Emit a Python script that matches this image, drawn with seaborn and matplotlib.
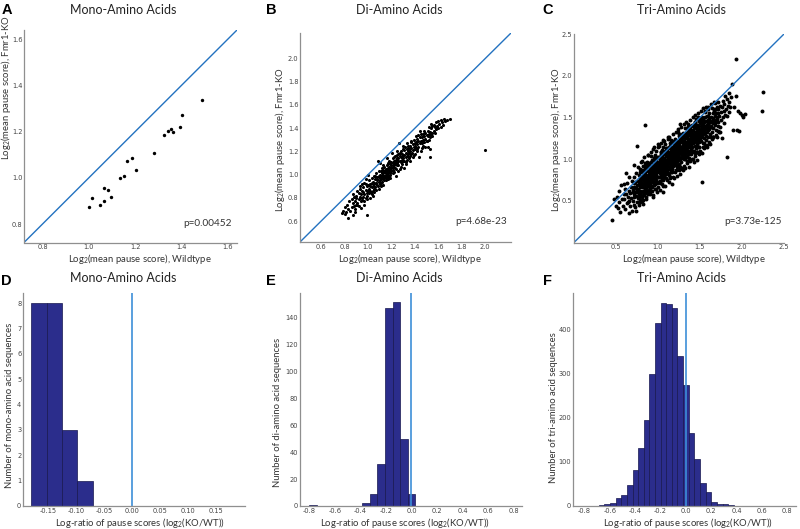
import numpy as np
import matplotlib
matplotlib.use("Agg")
import matplotlib.pyplot as plt
import seaborn as sns

# ---- panel A: mono-amino acids (wildtype vs Fmr1-KO) ----
mono_wt = [1.000, 1.014, 1.049, 1.067, 1.064, 1.081, 1.096, 1.134, 1.154, 1.164,
           1.186, 1.204, 1.280, 1.323, 1.341, 1.356, 1.364, 1.394, 1.404, 1.487]
mono_ko = [0.873, 0.914, 0.881, 0.901, 0.954, 0.947, 0.917, 0.999, 1.007, 1.072,
           1.086, 1.036, 1.106, 1.187, 1.203, 1.210, 1.197, 1.220, 1.273, 1.338]

# ---- panel B: di-amino acids ----
di_wt = [
    0.78, 0.79, 0.80, 0.80, 0.81, 0.82, 0.83, 0.83, 0.84, 0.85,
    0.86, 0.86, 0.87, 0.87, 0.88, 0.88, 0.89, 0.89, 0.90, 0.87, 0.885, 0.895,
    0.90, 0.91, 0.91, 0.92, 0.92, 0.92, 0.93, 0.93, 0.94, 0.94, 0.94, 0.95, 0.95, 0.91, 0.93, 0.945,
    0.95, 0.96, 0.96, 0.96, 0.97, 0.97, 0.97, 0.98, 0.98, 0.98, 0.99, 0.99, 0.99, 1.00, 1.00, 0.965, 0.985, 0.995, 0.99,
    1.00, 1.01, 1.01, 1.01, 1.02, 1.02, 1.02, 1.03, 1.03, 1.03, 1.04, 1.04, 1.04, 1.05, 1.05, 1.015, 1.025, 1.035, 1.045, 1.005,
    1.05, 1.06, 1.06, 1.06, 1.07, 1.07, 1.07, 1.08, 1.08, 1.08, 1.09, 1.09, 1.09, 1.10, 1.10, 1.10, 1.055, 1.065, 1.075, 1.085, 1.095, 1.085,
    1.10, 1.11, 1.11, 1.11, 1.11, 1.12, 1.12, 1.12, 1.12, 1.13, 1.13, 1.13, 1.13, 1.14, 1.14, 1.14, 1.14, 1.15, 1.15, 1.15, 1.105, 1.115, 1.125, 1.135, 1.145, 1.125,
    1.15, 1.16, 1.16, 1.16, 1.16, 1.17, 1.17, 1.17, 1.17, 1.18, 1.18, 1.18, 1.18, 1.19, 1.19, 1.19, 1.19, 1.20, 1.20, 1.20, 1.155, 1.165, 1.175, 1.185, 1.195, 1.165,
    1.20, 1.21, 1.21, 1.21, 1.22, 1.22, 1.22, 1.23, 1.23, 1.23, 1.24, 1.24, 1.24, 1.25, 1.25, 1.25, 1.205, 1.215, 1.225, 1.235, 1.245, 1.215, 1.235, 1.245,
    1.25, 1.26, 1.26, 1.26, 1.27, 1.27, 1.27, 1.28, 1.28, 1.28, 1.29, 1.29, 1.29, 1.30, 1.30, 1.30, 1.255, 1.265, 1.275, 1.285, 1.295, 1.26,
    1.30, 1.31, 1.31, 1.31, 1.32, 1.32, 1.32, 1.33, 1.33, 1.33, 1.34, 1.34, 1.34, 1.35, 1.35, 1.305, 1.315, 1.325, 1.335, 1.345,
    1.35, 1.36, 1.36, 1.36, 1.37, 1.37, 1.37, 1.38, 1.38, 1.38, 1.39, 1.39, 1.40, 1.40, 1.355, 1.365, 1.375, 1.395,
    1.40, 1.41, 1.41, 1.41, 1.42, 1.42, 1.42, 1.43, 1.43, 1.43, 1.44, 1.44, 1.45, 1.45, 1.405, 1.415, 1.435, 1.445,
    1.45, 1.46, 1.46, 1.46, 1.47, 1.47, 1.47, 1.48, 1.48, 1.49, 1.49, 1.50, 1.50, 1.455, 1.475, 1.485,
    1.50, 1.51, 1.51, 1.52, 1.52, 1.52, 1.53, 1.53, 1.54, 1.54, 1.55, 1.55, 1.515, 1.535, 1.53,
    1.55, 1.56, 1.56, 1.57, 1.57, 1.58, 1.58, 1.59, 1.60, 1.60, 1.525,
    1.61, 1.62, 1.62, 1.63, 1.64, 1.65, 1.66, 1.67, 1.70,
    2.00]
di_ko = [
    0.67, 0.69, 0.66, 0.72, 0.68, 0.74, 0.70, 0.63, 0.77, 0.69,
    0.72, 0.79, 0.65, 0.76, 0.73, 0.81, 0.70, 0.77, 0.74, 0.83, 0.68, 0.80,
    0.82, 0.76, 0.86, 0.79, 0.73, 0.84, 0.81, 0.88, 0.77, 0.83, 0.71, 0.80, 0.86, 0.74, 0.90, 0.92,
    0.78, 0.85, 0.89, 0.81, 0.83, 0.93, 0.77, 0.87, 0.80, 0.96, 0.84, 0.90, 0.79, 0.86, 1.00, 0.74, 0.92, 0.82, 0.65,
    0.91, 0.84, 0.88, 0.95, 0.86, 0.92, 0.80, 0.89, 0.97, 0.83, 0.90, 0.86, 0.94, 0.88, 0.99, 0.90, 0.85, 0.93, 0.82, 0.87,
    0.92, 0.96, 0.89, 0.99, 0.93, 0.87, 1.01, 0.95, 0.91, 0.98, 0.94, 1.03, 0.88, 0.97, 0.92, 1.00, 0.85, 0.93, 0.96, 1.12, 0.99, 0.90,
    0.95, 0.99, 0.93, 1.03, 0.97, 1.01, 0.94, 0.98, 1.06, 1.00, 0.96, 1.04, 0.91, 1.02, 0.98, 1.07, 0.95, 1.01, 1.05, 0.97, 1.10, 0.90, 1.08, 0.99, 1.03, 0.96,
    1.00, 1.04, 0.98, 1.08, 1.02, 1.06, 1.00, 1.10, 0.96, 1.03, 1.07, 0.99, 1.12, 1.05, 1.01, 1.09, 0.97, 1.06, 1.03, 1.11, 0.95, 1.14, 1.04, 1.00, 1.08, 1.01,
    1.07, 1.10, 1.04, 1.14, 1.08, 1.12, 1.02, 1.11, 1.06, 1.16, 1.09, 1.13, 1.05, 1.12, 1.08, 1.17, 1.19, 1.01, 1.15, 1.10, 1.20, 1.07, 0.99, 1.14,
    1.10, 1.14, 1.08, 1.18, 1.12, 1.16, 1.05, 1.15, 1.11, 1.20, 1.13, 1.09, 1.18, 1.16, 1.12, 1.22, 1.03, 1.27, 1.19, 1.07, 1.25, 1.12,
    1.14, 1.17, 1.12, 1.21, 1.15, 1.19, 1.09, 1.18, 1.22, 1.13, 1.20, 1.16, 1.25, 1.19, 1.14, 1.06, 1.24, 1.11, 1.27, 1.23,
    1.22, 1.20, 1.25, 1.16, 1.23, 1.18, 1.28, 1.21, 1.26, 1.15, 1.24, 1.30, 1.22, 1.27, 1.12, 1.29, 1.19, 1.17,
    1.25, 1.28, 1.23, 1.33, 1.26, 1.31, 1.20, 1.29, 1.24, 1.34, 1.27, 1.32, 1.28, 1.35, 1.18, 1.22, 1.15, 1.38,
    1.29, 1.27, 1.32, 1.23, 1.30, 1.35, 1.25, 1.28, 1.33, 1.31, 1.36, 1.29, 1.34, 1.20, 1.38, 1.24,
    1.29, 1.33, 1.38, 1.30, 1.35, 1.41, 1.32, 1.37, 1.34, 1.40, 1.36, 1.42, 1.24, 1.44, 1.15,
    1.33, 1.38, 1.43, 1.36, 1.41, 1.39, 1.45, 1.42, 1.40, 1.46, 1.225,
    1.44, 1.41, 1.47, 1.45, 1.43, 1.48, 1.46, 1.47, 1.48,
    1.21]

tri_wt = [
    0.45, 0.48, 0.50,
    0.51, 0.52, 0.53, 0.54, 0.55, 0.56, 0.57, 0.58, 0.59, 0.60,
    0.60, 0.61, 0.61, 0.62, 0.63, 0.63, 0.64, 0.65, 0.65, 0.66, 0.66, 0.67, 0.67, 0.68, 0.68, 0.69, 0.69, 0.70, 0.62, 0.64,
    0.70, 0.70, 0.71, 0.71, 0.71, 0.72, 0.72, 0.72, 0.73, 0.73, 0.73, 0.74, 0.74, 0.74, 0.75, 0.75, 0.75, 0.76, 0.76, 0.76,
    0.77, 0.77, 0.77, 0.78, 0.78, 0.78, 0.79, 0.79, 0.79, 0.80, 0.80, 0.80, 0.715, 0.735, 0.755, 0.775, 0.795, 0.745,
    0.80, 0.80, 0.81, 0.81, 0.81, 0.81, 0.82, 0.82, 0.82, 0.82, 0.83, 0.83, 0.83, 0.83, 0.83, 0.84, 0.84, 0.84, 0.84, 0.85,
    0.85, 0.85, 0.85, 0.85, 0.86, 0.86, 0.86, 0.86, 0.87, 0.87, 0.87, 0.87, 0.87, 0.88, 0.88, 0.88, 0.88, 0.89, 0.89, 0.89,
    0.89, 0.90, 0.90, 0.90, 0.805, 0.815, 0.825, 0.835, 0.845, 0.855, 0.865, 0.875, 0.885, 0.895, 0.85,
    0.90, 0.90, 0.91, 0.91, 0.91, 0.91, 0.91, 0.92, 0.92, 0.92, 0.92, 0.92, 0.93, 0.93, 0.93, 0.93, 0.93, 0.94, 0.94, 0.94,
    0.94, 0.94, 0.95, 0.95, 0.95, 0.95, 0.95, 0.96, 0.96, 0.96, 0.96, 0.96, 0.97, 0.97, 0.97, 0.97, 0.97, 0.98, 0.98, 0.98,
    0.98, 0.98, 0.99, 0.99, 0.99, 0.99, 1.00, 1.00, 1.00, 1.00, 0.905, 0.915, 0.925, 0.935, 0.945, 0.955, 0.965, 0.975, 0.985, 0.995,
    0.925, 0.945, 0.965, 0.985, 0.955,
    1.00, 1.01, 1.01, 1.01, 1.01, 1.02, 1.02, 1.02, 1.02, 1.02, 1.03, 1.03, 1.03, 1.03, 1.03, 1.04, 1.04, 1.04, 1.04, 1.04,
    1.05, 1.05, 1.05, 1.05, 1.05, 1.06, 1.06, 1.06, 1.06, 1.06, 1.07, 1.07, 1.07, 1.07, 1.07, 1.08, 1.08, 1.08, 1.08, 1.08,
    1.09, 1.09, 1.09, 1.09, 1.09, 1.10, 1.10, 1.10, 1.10, 1.005, 1.015, 1.025, 1.035, 1.045, 1.055, 1.065, 1.075, 1.085, 1.095,
    1.015, 1.035, 1.055, 1.075, 1.095, 1.025, 1.045, 1.065, 1.085, 1.04, 1.06,
    1.10, 1.11, 1.11, 1.11, 1.11, 1.12, 1.12, 1.12, 1.12, 1.12, 1.13, 1.13, 1.13, 1.13, 1.13, 1.14, 1.14, 1.14, 1.14, 1.14,
    1.15, 1.15, 1.15, 1.15, 1.15, 1.16, 1.16, 1.16, 1.16, 1.16, 1.17, 1.17, 1.17, 1.17, 1.17, 1.18, 1.18, 1.18, 1.18, 1.18,
    1.19, 1.19, 1.19, 1.19, 1.19, 1.20, 1.20, 1.20, 1.20, 1.105, 1.115, 1.125, 1.135, 1.145, 1.155, 1.165, 1.175, 1.185, 1.195,
    1.115, 1.135, 1.155, 1.175, 1.195, 1.125, 1.145, 1.165, 1.185, 1.14, 1.16,
    1.20, 1.21, 1.21, 1.21, 1.21, 1.22, 1.22, 1.22, 1.22, 1.23, 1.23, 1.23, 1.23, 1.23, 1.24, 1.24, 1.24, 1.24, 1.25, 1.25,
    1.25, 1.25, 1.25, 1.26, 1.26, 1.26, 1.26, 1.27, 1.27, 1.27, 1.27, 1.27, 1.28, 1.28, 1.28, 1.28, 1.29, 1.29, 1.29, 1.29,
    1.29, 1.30, 1.30, 1.30, 1.30, 1.205, 1.215, 1.225, 1.235, 1.245, 1.255, 1.265, 1.275, 1.285, 1.295,
    1.215, 1.235, 1.255, 1.275, 1.295, 1.225, 1.245, 1.265, 1.285, 1.25,
    1.30, 1.31, 1.31, 1.31, 1.31, 1.32, 1.32, 1.32, 1.32, 1.33, 1.33, 1.33, 1.33, 1.34, 1.34, 1.34, 1.34, 1.35, 1.35, 1.35,
    1.35, 1.35, 1.36, 1.36, 1.36, 1.36, 1.37, 1.37, 1.37, 1.37, 1.38, 1.38, 1.38, 1.38, 1.39, 1.39, 1.39, 1.39, 1.40, 1.40,
    1.40, 1.305, 1.315, 1.325, 1.335, 1.345, 1.355, 1.365, 1.375, 1.385, 1.395,
    1.315, 1.335, 1.355, 1.375, 1.395, 1.325, 1.345, 1.365, 1.385,
    1.40, 1.41, 1.41, 1.41, 1.42, 1.42, 1.42, 1.42, 1.43, 1.43, 1.43, 1.44, 1.44, 1.44, 1.44, 1.45, 1.45, 1.45, 1.45, 1.46,
    1.46, 1.46, 1.47, 1.47, 1.47, 1.47, 1.48, 1.48, 1.48, 1.49, 1.49, 1.49, 1.49, 1.50, 1.50, 1.50,
    1.405, 1.415, 1.425, 1.435, 1.445, 1.455, 1.465, 1.475, 1.485, 1.495,
    1.415, 1.435, 1.455, 1.475, 1.495, 1.425, 1.445, 1.465, 1.485,
    1.50, 1.51, 1.51, 1.51, 1.52, 1.52, 1.52, 1.53, 1.53, 1.53, 1.54, 1.54, 1.54, 1.55, 1.55, 1.55, 1.56, 1.56, 1.56, 1.57,
    1.57, 1.57, 1.58, 1.58, 1.58, 1.59, 1.59, 1.59, 1.60, 1.60,
    1.505, 1.515, 1.525, 1.535, 1.545, 1.555, 1.565, 1.575, 1.585, 1.595, 1.52, 1.54, 1.56, 1.58, 1.52,
    1.60, 1.61, 1.61, 1.62, 1.62, 1.63, 1.63, 1.64, 1.64, 1.65, 1.65, 1.65, 1.66, 1.66, 1.67, 1.67, 1.68, 1.68, 1.69, 1.69,
    1.70, 1.70, 1.605, 1.625, 1.645, 1.665, 1.685, 1.615, 1.635, 1.655, 1.675, 1.695,
    1.70, 1.71, 1.71, 1.72, 1.72, 1.73, 1.74, 1.74, 1.75, 1.75, 1.76, 1.77, 1.77, 1.78, 1.78, 1.79, 1.80, 1.80, 1.73, 1.76,
    1.81, 1.82, 1.82, 1.83, 1.84, 1.85, 1.85, 1.86, 1.87, 1.88, 1.89, 1.82,
    1.91, 1.93, 1.94, 1.95, 1.96, 1.98, 2.00, 2.01, 2.03, 1.93,
    2.25, 2.24,
    # outer part of the cloud
    0.76, 0.78, 0.80, 0.82, 0.84, 0.86, 0.88, 0.90, 0.92, 0.94,
    0.96, 0.98, 1.00, 1.02, 1.04, 1.06, 1.08, 1.10, 1.12, 1.14,
    1.16, 1.18, 1.20, 1.22, 1.24, 1.26, 1.28, 1.30, 1.32, 1.34,
    1.36, 1.38, 1.40, 1.42, 1.44, 1.46, 1.48, 1.50, 1.52, 1.54,
    1.56, 1.58, 1.60, 1.62, 1.64, 1.66, 1.68, 1.70, 1.72, 1.74,
    0.77, 0.81, 0.85, 0.89, 0.93, 0.97, 1.01, 1.05, 1.09, 1.13,
    1.17, 1.21, 1.25, 1.29, 1.33, 1.37, 1.41, 1.45, 1.49, 1.53,
    1.57, 1.61, 1.65, 1.69, 0.79, 0.83, 0.87, 0.91, 0.95, 0.99,
    1.03, 1.07, 1.11, 1.15, 1.19, 1.23, 1.27, 1.31, 1.35, 1.39,
    1.43, 1.47, 1.51, 1.55, 1.59, 1.63, 1.67, 1.71, 1.06, 1.26]
tri_ko = [
    0.27, 0.52, 0.44,
    0.55, 0.41, 0.62, 0.48, 0.36, 0.69, 0.52, 0.44, 0.58, 0.70,
    0.52, 0.64, 0.40, 0.58, 0.71, 0.47, 0.55, 0.62, 0.35, 0.78, 0.50, 0.59, 0.44, 0.66, 0.53, 0.74, 0.38, 0.61, 0.83, 0.49,
    0.63, 0.50, 0.71, 0.58, 0.45, 0.67, 0.79, 0.54, 0.61, 0.72, 0.42, 0.65, 0.56, 0.83, 0.69, 0.60, 0.48, 0.74, 0.64, 0.53,
    0.70, 0.81, 0.58, 0.66, 0.76, 0.51, 0.72, 0.62, 0.88, 0.68, 0.57, 0.78, 0.93, 0.38, 1.16, 0.45, 0.69, 0.63,
    0.72, 0.61, 0.76, 0.66, 0.85, 0.55, 0.70, 0.80, 0.62, 0.92, 0.74, 0.67, 0.83, 0.57, 0.78, 0.71, 0.88, 0.64, 0.77, 0.75,
    0.69, 0.84, 0.59, 0.95, 0.73, 0.81, 0.65, 0.87, 0.76, 0.70, 0.90, 0.62, 0.80, 0.78, 0.68, 0.86, 0.74, 0.72, 0.82, 0.63,
    0.93, 0.79, 0.71, 0.85, 0.50, 0.98, 0.46, 1.02, 0.88, 0.54, 0.96, 0.58, 1.05, 0.68, 1.41,
    0.80, 0.70, 0.84, 0.75, 0.92, 0.65, 0.88, 0.82, 0.73, 0.97, 0.78, 0.86, 0.83, 0.68, 0.91, 0.76, 0.99, 0.85, 0.72, 0.94,
    0.80, 0.88, 0.87, 0.77, 1.01, 0.69, 0.84, 0.83, 0.92, 0.74, 1.04, 0.89, 0.86, 0.79, 0.95, 0.70, 0.90, 0.88, 0.81, 1.00,
    0.75, 0.93, 0.85, 0.96, 0.72, 0.90, 0.87, 0.79, 1.03, 0.94, 0.58, 1.08, 0.62, 1.12, 0.55, 1.15, 0.64, 1.10, 0.60, 1.18,
    0.81, 0.89, 0.78, 0.84, 0.91,
    0.90, 0.86, 0.95, 0.78, 1.02, 0.91, 0.83, 0.99, 0.74, 0.88, 0.93, 0.85, 1.05, 0.79, 0.96, 0.92, 0.81, 1.00, 0.87, 1.08,
    0.94, 0.84, 0.98, 0.76, 1.03, 0.91, 0.97, 0.82, 1.06, 0.88, 0.95, 0.86, 1.01, 0.79, 0.93, 0.96, 0.89, 1.07, 0.83, 0.99,
    0.97, 0.90, 1.04, 0.84, 0.94, 0.98, 0.87, 1.09, 0.92, 0.66, 1.16, 0.63, 1.19, 0.70, 1.14, 0.61, 1.22, 0.68, 1.13,
    0.93, 0.89, 0.95, 0.90, 0.96, 0.72, 1.11, 0.75, 1.10, 0.92, 0.97,
    0.99, 0.94, 1.04, 0.87, 1.10, 1.00, 0.92, 1.07, 0.83, 0.97, 1.02, 0.95, 1.13, 0.88, 1.05, 1.01, 0.90, 1.09, 0.96, 1.16,
    1.03, 0.93, 1.08, 0.85, 1.12, 1.00, 1.06, 0.91, 1.15, 0.97, 1.04, 0.95, 1.10, 0.88, 1.02, 1.05, 0.98, 1.14, 0.92, 1.08,
    1.06, 0.99, 1.12, 0.94, 1.03, 1.07, 0.96, 1.17, 1.01, 0.75, 1.24, 0.72, 1.27, 0.79, 1.21, 0.70, 1.30, 0.77, 1.22,
    1.02, 0.98, 1.04, 0.99, 1.05, 0.81, 1.19, 0.84, 1.20, 1.00, 1.06,
    1.08, 1.03, 1.13, 0.96, 1.19, 1.09, 1.01, 1.16, 0.93, 1.11, 1.04, 1.22, 0.98, 1.14, 1.10, 0.99, 1.18, 1.05, 1.12, 1.02,
    1.17, 0.94, 1.21, 1.09, 1.15, 1.00, 1.24, 1.13, 1.06, 1.20, 0.97, 1.11, 1.14, 1.07, 1.23, 1.01, 1.15, 1.08, 1.26, 1.03,
    1.12, 1.16, 1.05, 1.21, 1.10, 0.84, 1.33, 0.80, 1.36, 0.87, 1.30, 0.82, 1.38, 0.89, 1.31,
    1.11, 1.07, 1.13, 1.08, 1.14, 0.91, 1.28, 0.90, 1.29, 1.10,
    1.17, 1.12, 1.22, 1.05, 1.28, 1.18, 1.09, 1.25, 1.02, 1.20, 1.13, 1.31, 1.07, 1.19, 1.10, 1.27, 1.15, 1.21, 1.11, 1.26,
    1.04, 1.30, 1.18, 1.24, 1.09, 1.33, 1.22, 1.14, 1.29, 1.06, 1.23, 1.16, 1.32, 1.10, 1.25, 1.17, 1.35, 1.12, 1.24, 1.19,
    1.30, 0.92, 1.42, 0.89, 1.45, 0.95, 1.39, 0.91, 1.47, 0.98, 1.40,
    1.20, 1.16, 1.22, 1.18, 1.26, 1.00, 1.37, 1.01, 1.36,
    1.26, 1.21, 1.31, 1.14, 1.27, 1.19, 1.35, 1.10, 1.29, 1.22, 1.38, 1.25, 1.16, 1.33, 1.07, 1.28, 1.20, 1.37, 1.13, 1.30,
    1.23, 1.41, 1.27, 1.18, 1.34, 1.09, 1.32, 1.24, 1.40, 1.29, 1.21, 1.36, 1.15, 1.31, 1.25, 1.43,
    1.00, 1.51, 0.97, 1.53, 1.04, 1.48, 0.99, 1.55, 1.06, 1.49,
    1.28, 1.24, 1.30, 1.26, 1.33, 1.10, 1.45, 1.08, 1.46,
    1.34, 1.29, 1.40, 1.22, 1.36, 1.27, 1.45, 1.33, 1.19, 1.42, 1.38, 1.30, 1.48, 1.35, 1.25, 1.44, 1.39, 1.31, 1.50, 1.37,
    1.28, 1.46, 1.41, 1.33, 1.52, 1.38, 1.26, 1.47, 1.43, 1.35,
    1.10, 1.58, 1.07, 1.61, 1.13, 1.56, 1.16, 1.62, 1.15, 1.60, 1.37, 1.34, 1.40, 1.36, 0.73,
    1.42, 1.36, 1.48, 1.44, 1.30, 1.51, 1.39, 1.46, 1.33, 1.43, 1.55, 1.27, 1.49, 1.37, 1.45, 1.58, 1.41, 1.52, 1.47, 1.35,
    1.50, 1.62, 1.20, 1.66, 1.24, 1.68, 1.29, 1.45, 1.40, 1.47, 1.43, 1.55,
    1.48, 1.55, 1.40, 1.60, 1.45, 1.52, 1.64, 1.38, 1.56, 1.47, 1.62, 1.50, 1.70, 1.43, 1.58, 1.66, 1.53, 1.76, 1.33, 1.25,
    1.60, 1.52, 1.72, 1.64, 1.79, 1.57, 1.68, 1.62, 1.75, 1.90, 1.35, 1.03,
    1.62, 1.76, 1.35, 1.58, 1.34, 1.55, 1.53, 1.50, 1.54, 2.20,
    1.80, 1.58,
    # outer part of the cloud
    0.90, 0.49, 0.96, 0.51, 0.92, 0.52, 1.05, 0.60, 1.04, 0.57,
    1.05, 0.64, 1.14, 0.71, 1.08, 0.68, 1.18, 0.77, 1.26, 0.77,
    1.23, 0.79, 1.24, 0.87, 1.33, 0.88, 1.30, 0.87, 1.37, 0.98,
    1.42, 0.99, 1.41, 1.00, 1.45, 1.08, 1.51, 1.08, 1.50, 1.14,
    1.58, 1.17, 1.63, 1.18, 1.61, 1.26, 1.67, 1.26, 1.69, 1.32,
    0.55, 0.87, 0.62, 0.95, 0.67, 0.99, 0.73, 1.05, 0.82, 1.14,
    0.88, 1.20, 0.93, 1.28, 1.03, 1.36, 1.09, 1.41, 1.15, 1.47,
    1.23, 1.55, 1.27, 1.60, 0.84, 0.59, 0.93, 0.66, 0.99, 0.71,
    1.06, 0.80, 1.13, 0.86, 1.18, 0.92, 1.26, 1.00, 1.31, 1.06,
    1.41, 1.14, 1.46, 1.19, 1.52, 1.27, 1.60, 1.34, 1.23, 1.42]

# ---- panels D-F: histograms of log2(KO/WT) ----
mono_edges = [-0.181, -0.1535, -0.126, -0.0985, -0.071]
mono_counts = [8, 8, 3, 1]
di_edges = [-0.800, -0.741, -0.681, -0.622, -0.563, -0.504, -0.444, -0.385,
            -0.326, -0.266, -0.207, -0.148, -0.089, -0.029, 0.030]
di_counts = [1, 0, 0, 0, 0, 0, 0, 2, 9, 31, 147, 151, 50, 9]
tri_edges = [-0.822, -0.778, -0.733, -0.689, -0.644, -0.600, -0.556, -0.511,
             -0.467, -0.422, -0.378, -0.333, -0.289, -0.244, -0.200, -0.156,
             -0.111, -0.067, -0.022, 0.022, 0.067, 0.111, 0.156, 0.200,
             0.244, 0.289, 0.333, 0.378, 0.422, 0.467, 0.511, 0.556, 0.600]
tri_counts = [1, 1, 0, 2, 4, 7, 19, 25, 47, 81, 132, 194, 298, 413, 460, 457,
              447, 339, 273, 165, 107, 52, 31, 9, 5, 4, 2, 0, 0, 0, 0, 1]

p_values = ["p=0.00452", "p=4.68e-23", "p=3.73e-125"]
titles = ["Mono-Amino Acids", "Di-Amino Acids", "Tri-Amino Acids"]
hist_ylabels = ["Number of mono-amino acid sequences",
                "Number of di-amino acid sequences",
                "Number of tri-amino acid sequences"]

sns.set_theme(style="white")
plt.rcParams["font.family"] = ["Lato", "DejaVu Sans"]
plt.rcParams["mathtext.fontset"] = "custom"
plt.rcParams["mathtext.rm"] = "Lato"
plt.rcParams["mathtext.it"] = "Lato:italic"

W, H = 800, 529
fig = plt.figure(figsize=(8, 5.29), dpi=100)

LINE_BLUE = "#2372c0"
VLINE_BLUE = "#3d8fd8"
BAR = "#2b2d8c"
SPINE = "#8f8f8f"
TXT = "#333333"


def box(l, t, r, b):
    return fig.add_axes([l / W, 1 - b / H, (r - l) / W, (b - t) / H])


def txt(x, y, s, **kw):
    kw.setdefault("ha", "center")
    kw.setdefault("va", "center")
    fig.text(x / W, 1 - y / H, s, **kw)


def style(ax):
    sns.despine(ax=ax)
    for side in ["left", "bottom"]:
        ax.spines[side].set_color(SPINE)
        ax.spines[side].set_linewidth(0.9)
    # small inward ticks, MATLAB style
    ax.tick_params(direction="in", length=1.8, width=0.6, color=SPINE,
                   labelsize=4.8, labelcolor="#444444", pad=1.2,
                   labelfontfamily="DejaVu Sans")
    ax.grid(False)


wt_label = r"Log$_2$(mean pause score), Wildtype"
ko_label = r"Log$_2$(mean pause score), Fmr1-KO"
ratio_label = r"Log-ratio of pause scores (log$_2$(KO/WT))"

# scatter panels
scatter_data = [(mono_wt, mono_ko), (di_wt, di_ko), (tri_wt, tri_ko)]
scatter_boxes = [(24, 30, 237, 242.5), (300, 33, 511, 242), (574, 34, 784, 242.5)]
scatter_lims = [(0.72, 1.64), (0.42, 2.22), (0.0, 2.5)]
scatter_ticks = [[0.8, 1.0, 1.2, 1.4, 1.6],
                 [0.6, 0.8, 1.0, 1.2, 1.4, 1.6, 1.8, 2.0],
                 [0.5, 1.0, 1.5, 2.0, 2.5]]
sizes = [6, 5, 8]
p_pos = [(232, 224), (507, 222), (782, 221)]
xlab_pos = [(140, 259.5), (410, 259.5), (694, 259.5)]
ylab_pos = [(6, 88), (280, 140), (556, 140)]

for i in range(3):
    xs, ys = scatter_data[i]
    n = min(len(xs), len(ys))
    ax = box(*scatter_boxes[i])
    sns.scatterplot(x=xs[:n], y=ys[:n], ax=ax, color="black", s=sizes[i],
                    linewidth=0, legend=False)
    lo, hi = scatter_lims[i]
    ax.axline((lo, lo), slope=1, color=LINE_BLUE, lw=1.0)
    ax.set_xlim(lo, hi)
    ax.set_ylim(lo, hi)
    ax.set_xticks(scatter_ticks[i])
    ax.set_yticks(scatter_ticks[i])
    ax.xaxis.set_major_formatter(matplotlib.ticker.FormatStrFormatter("%.1f"))
    ax.yaxis.set_major_formatter(matplotlib.ticker.FormatStrFormatter("%.1f"))
    style(ax)
    txt(*p_pos[i], p_values[i], ha="right", fontsize=7.2, color=TXT)
    txt(*xlab_pos[i], wt_label, fontsize=6.8, color=TXT)
    txt(*ylab_pos[i], ko_label, fontsize=6.8, color=TXT, rotation=90)

# histogram panels
hist_data = [(mono_edges, mono_counts), (di_edges, di_counts), (tri_edges, tri_counts)]
hist_boxes = [(23, 293, 245, 506), (300, 293, 522, 506), (573, 293, 796, 506)]
hist_xlim = [(-0.196, 0.202), (-0.873, 0.866), (-0.892, 0.869)]
hist_ylim = [8.4, 158, 482]
hist_xticks = [[-0.15, -0.10, -0.05, 0.0, 0.05, 0.10, 0.15],
               [-0.8, -0.6, -0.4, -0.2, 0.0, 0.2, 0.4, 0.6, 0.8],
               [-0.8, -0.6, -0.4, -0.2, 0.0, 0.2, 0.4, 0.6, 0.8]]
hist_yticks = [list(range(0, 9)), list(range(0, 141, 20)), list(range(0, 401, 100))]
xfmt = ["%.2f", "%.1f", "%.1f"]
hxlab_pos = [(140, 522.5), (405, 522.5), (688, 522.5)]
hylab_pos = [(10, 405), (277, 412), (553, 408)]

for i in range(3):
    edges, counts = hist_data[i]
    centers = (np.array(edges[:-1]) + np.array(edges[1:])) / 2
    ax = box(*hist_boxes[i])
    sns.histplot(x=centers, weights=counts, bins=edges, ax=ax, color=BAR,
                 alpha=1, edgecolor="#17174f", linewidth=0.5)
    ax.axvline(0, color=VLINE_BLUE, lw=1.2)
    ax.set_xlim(*hist_xlim[i])
    ax.set_ylim(0, hist_ylim[i])
    ax.set_xticks(hist_xticks[i])
    ax.set_yticks(hist_yticks[i])
    ax.xaxis.set_major_formatter(matplotlib.ticker.FormatStrFormatter(xfmt[i]))
    ax.set_xlabel("")
    ax.set_ylabel("")
    style(ax)
    txt(*hxlab_pos[i], ratio_label, fontsize=6.8, color=TXT)
    txt(*hylab_pos[i], hist_ylabels[i], fontsize=6.8, color=TXT, rotation=90)

# titles and panel letters
title_x = [123, 399, 681]
for i in range(3):
    txt(title_x[i], 10, titles[i], fontsize=9, color="#222222")
    txt(title_x[i], 278, titles[i], fontsize=9, color="#222222")
letters = [("A", 7, 10), ("B", 271, 10), ("C", 548, 10),
           ("D", 6, 281), ("E", 271, 281), ("F", 547, 281)]
for s, x, y in letters:
    txt(x, y, s, fontsize=10.5, fontweight="bold", color="black",
        family=["Liberation Sans", "DejaVu Sans"])

fig.savefig("out.png", dpi=100)
